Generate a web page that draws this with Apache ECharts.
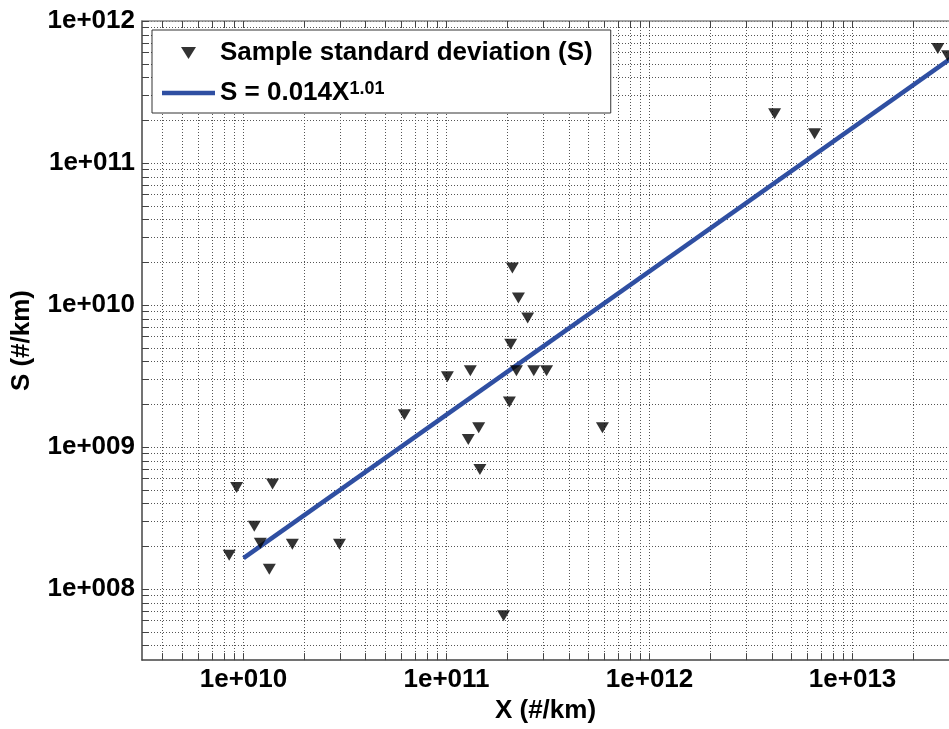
<!DOCTYPE html>
<html>
<head>
<meta charset="utf-8">
<script src="https://cdn.jsdelivr.net/npm/echarts@6/dist/echarts.min.js"></script>
<style>
  html, body { margin: 0; padding: 0; background: #fff; }
  #chart { width: 949px; height: 729px; }
</style>
</head>
<body>
<div id="chart"></div>
<script>
// values (#/km)
var sampleX = [9.25e9, 1.39e10, 1.13e10, 1.21e10, 8.5e9, 1.74e10, 2.97e10, 1.34e10,
  6.2e10, 1.44e11, 1.28e11, 1.46e11, 1.91e11, 2.11e11, 2.26e11, 2.51e11, 2.07e11,
  1.01e11, 1.31e11, 2.21e11, 2.69e11, 3.11e11, 2.04e11, 5.86e11,
  4.13e12, 6.5e12, 2.63e13, 2.94e13];
var sampleS = [5.2e8, 5.5e8, 2.77e8, 2.1e8, 1.73e8, 2.07e8, 2.07e8, 1.38e8,
  1.69e9, 1.37e9, 1.13e9, 6.95e8, 6.5e7, 1.82e10, 1.12e10, 8.1e9, 5.3e9,
  3.13e9, 3.44e9, 3.44e9, 3.44e9, 3.44e9, 2.08e9, 1.37e9,
  2.22e11, 1.61e11, 6.4e11, 5.7e11];
// fitted line end points
var fitX = [1e10, 4e13];
var fitS = [1.65e8, 7.16e11];
var seriesNames = ['Sample standard deviation (S)', 'S = 0.014X^1.01'];

// axes
var xRange = [Math.pow(10, 9.5), Math.pow(10, 13.475)];
var yRange = [Math.pow(10, 7.5), 1e12];
var xLabelValues = [1e10, 1e11, 1e12, 1e13];
var yLabelValues = [1e8, 1e9, 1e10, 1e11, 1e12];
var decadeSteps = [1, 2, 3, 4, 5, 6, 7, 8, 9];

function gridValues(range) {
  var out = [];
  var lo = Math.floor(Math.log10(range[0])), hi = Math.ceil(Math.log10(range[1]));
  for (var n = lo; n <= hi; n++) {
    decadeSteps.forEach(function (k) {
      var v = k * Math.pow(10, n);
      if (v >= range[0] * 0.999 && v <= range[1] * 1.001) out.push(v);
    });
  }
  return out;
}

var font = '"Liberation Sans", Arial, sans-serif';

function expLabel(v) {
  var e = Math.round(Math.log10(v));
  return '1e+' + ('000' + e).slice(-3);
}

var gridDots = { type: [1, 2], color: '#555', width: 1 };

function logAxis(range, pos, labels, main) {
  return {
    type: 'log',
    logBase: 10,
    min: range[0],
    max: range[1],
    position: pos,
    axisLine: { show: true, lineStyle: { color: main ? '#444' : '#888', width: 1.5 } },
    axisTick: { show: true, inside: true, length: 7, customValues: gridValues(range), lineStyle: { color: '#444' } },
    splitLine: { show: main, lineStyle: gridDots },
    axisLabel: {
      show: main,
      customValues: labels,
      formatter: expLabel,
      fontSize: 26,
      fontWeight: 'bold',
      fontFamily: font,
      color: '#000',
      margin: 7
    }
  };
}

var xBottom = logAxis(xRange, 'bottom', xLabelValues, true);
xBottom.name = 'X (#/km)';
xBottom.nameLocation = 'middle';
xBottom.nameGap = 34;
xBottom.nameTextStyle = { fontSize: 26, fontWeight: 'bold', fontFamily: font, color: '#000', verticalAlign: 'top' };
var xTop = logAxis(xRange, 'top', xLabelValues, false);

var yLeft = logAxis(yRange, 'left', yLabelValues, true);
yLeft.name = 'S (#/km)';
yLeft.nameLocation = 'middle';
yLeft.nameGap = 107;
yLeft.nameTextStyle = { fontSize: 26, fontWeight: 'bold', fontFamily: font, color: '#000' };

var lineColor = '#2f4fa2';

var chart = echarts.init(document.getElementById('chart'));
chart.setOption({
  animation: false,
  backgroundColor: '#fff',
  grid: { left: 142, right: 0, top: 21, bottom: 66 },
  legend: {
    left: 152,
    top: 30,
    orient: 'vertical',
    padding: [10, 18, 7, 10],
    itemGap: 14,
    itemWidth: 53,
    itemHeight: 12,
    backgroundColor: '#fff',
    borderColor: '#333',
    borderWidth: 1,
    data: [
      { name: seriesNames[0], icon: 'path://M0,0L10,0L5,8Z' },
      { name: seriesNames[1], icon: 'path://M0,0L53,0L53,4.5L0,4.5Z' }
    ],
    formatter: function (name) {
      var p = name.split('^');
      return p.length > 1 ? '{b|' + p[0] + '}{sup|' + p[1] + '}' : name;
    },
    textStyle: {
      fontSize: 26, fontWeight: 'bold', fontFamily: font, color: '#000',
      rich: {
        b: { fontSize: 26, fontWeight: 'bold', fontFamily: font, color: '#000' },
        sup: { fontSize: 18, fontWeight: 'bold', fontFamily: font, color: '#000', verticalAlign: 'top', padding: [0, 0, 8, 0] }
      }
    }
  },
  xAxis: [xBottom, xTop],
  yAxis: [yLeft],
  series: [
    {
      name: seriesNames[0],
      type: 'scatter',
      symbol: 'path://M0,0L10,0L5,8Z',
      symbolSize: [13, 11],
      itemStyle: { color: '#000' },
      data: sampleX.map(function (x, i) { return [x, sampleS[i]]; }),
      z: 3
    },
    {
      name: seriesNames[1],
      type: 'line',
      symbol: 'none',
      lineStyle: { color: lineColor, width: 4.5 },
      itemStyle: { color: lineColor },
      data: fitX.map(function (x, i) { return [x, fitS[i]]; }),
      z: 2
    }
  ]
});
</script>
</body>
</html>
